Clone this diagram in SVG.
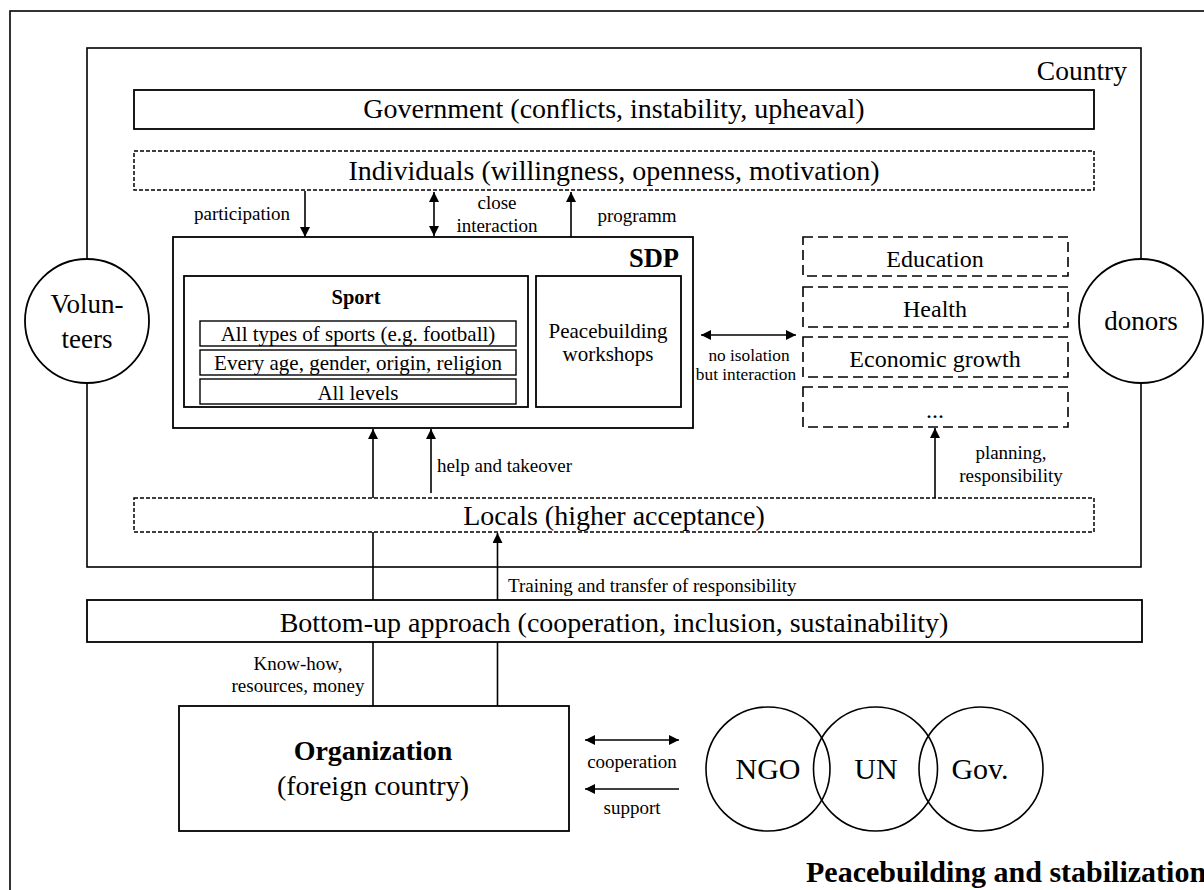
<svg xmlns="http://www.w3.org/2000/svg" width="1204" height="890" viewBox="0 0 1204 890">
<style>
text{font-family:"Liberation Serif","Times New Roman",serif;fill:#000}
.big{font-size:28px}
.lbl{font-size:19px}
.med{font-size:21px}
.box{fill:#fff;stroke:#000;stroke-width:1.8}
.frame{fill:none;stroke:#000;stroke-width:1.6}
.dash{fill:#fff;stroke:#000;stroke-width:1.5;stroke-dasharray:4 2}
.ldash{fill:#fff;stroke:#000;stroke-width:1.6;stroke-dasharray:10 5}
.ln{fill:none;stroke:#000;stroke-width:1.6}
.c{text-anchor:middle}
.b{font-weight:bold}
</style>
<defs>
<marker id="ah" viewBox="0 0 10 10" refX="10" refY="5" markerWidth="10" markerHeight="10" markerUnits="userSpaceOnUse" orient="auto-start-reverse">
<path d="M0,0 L10,5 L0,10 z" fill="#000"/>
</marker>
</defs>
<rect id="outer" x="10" y="11" width="1210" height="900" class="frame"/>
<g id="country"><rect x="87" y="48" width="1054" height="519" class="frame"/><text x="1127" y="80" style="font-size:27.5px" text-anchor="end">Country</text></g>
<g id="connectors">
<line x1="305" y1="191" x2="305" y2="237" class="ln" marker-end="url(#ah)"/>
<line x1="434" y1="192" x2="434" y2="236" class="ln" marker-start="url(#ah)" marker-end="url(#ah)"/>
<line x1="571" y1="237" x2="571" y2="192" class="ln" marker-end="url(#ah)"/>
<line x1="701" y1="335" x2="796" y2="335" class="ln" marker-start="url(#ah)" marker-end="url(#ah)"/>
<line x1="373" y1="498" x2="373" y2="429" class="ln" marker-end="url(#ah)"/>
<line x1="373" y1="532" x2="373" y2="600" class="ln"/>
<line x1="373" y1="642" x2="373" y2="706" class="ln"/>
<line x1="431" y1="493" x2="431" y2="429" class="ln" marker-end="url(#ah)"/>
<line x1="935" y1="498" x2="935" y2="428" class="ln" marker-end="url(#ah)"/>
<line x1="497.5" y1="600" x2="497.5" y2="533" class="ln" marker-end="url(#ah)"/>
<line x1="497.5" y1="642" x2="497.5" y2="706" class="ln"/>
<line x1="585" y1="740" x2="679" y2="740" class="ln" marker-start="url(#ah)" marker-end="url(#ah)"/>
<line x1="679" y1="789" x2="585" y2="789" class="ln" marker-end="url(#ah)"/>
<text x="290" y="220" class="lbl" text-anchor="end">participation</text>
<text x="497" y="209" class="lbl c">close</text>
<text x="497" y="232" class="lbl c">interaction</text>
<text x="637" y="222" class="lbl c">programm</text>
<text x="749" y="361" style="font-size:17.3px" class="c">no isolation</text>
<text x="746" y="380" style="font-size:17.3px" class="c">but interaction</text>
<text x="437" y="472" class="lbl">help and takeover</text>
<text x="1011" y="459" class="lbl c">planning,</text>
<text x="1011" y="482" class="lbl c">responsibility</text>
<text x="508" y="592" class="lbl">Training and transfer of responsibility</text>
<text x="298" y="670" class="lbl c">Know-how,</text>
<text x="298" y="692" class="lbl c">resources, money</text>
<text x="632" y="768" class="lbl c">cooperation</text>
<text x="632" y="814" class="lbl c">support</text>
</g>
<g id="government"><rect x="134" y="90" width="960" height="39" class="box"/><text x="614" y="118" class="big c">Government (conflicts, instability, upheaval)</text></g>
<g id="individuals"><rect x="134" y="151" width="960" height="39" class="dash"/><text x="614" y="180" class="big c">Individuals (willingness, openness, motivation)</text></g>
<g id="sdp"><rect x="173" y="237" width="520" height="191" class="box"/><text x="679" y="267" class="b" style="font-size:26.5px" text-anchor="end">SDP</text></g>
<g id="sport"><rect x="184" y="276" width="344" height="131" class="box"/><text x="356" y="304" class="b c" style="font-size:20.5px">Sport</text>
<rect x="200" y="321" width="316" height="25" class="box" style="stroke-width:1.4"/><text x="358" y="341" class="med c">All types of sports (e.g. football)</text>
<rect x="200" y="350" width="316" height="25" class="box" style="stroke-width:1.4"/><text x="358" y="370" class="med c">Every age, gender, origin, religion</text>
<rect x="200" y="379" width="316" height="25" class="box" style="stroke-width:1.4"/><text x="358" y="400" class="med c">All levels</text></g>
<g id="workshops"><rect x="536" y="276" width="145" height="131" class="box"/><text x="608" y="338" class="med c">Peacebuilding</text><text x="608" y="361" class="med c">workshops</text></g>
<g id="education"><rect x="803" y="237" width="265" height="39" class="ldash"/><text x="935" y="267" style="font-size:24px" class="c">Education</text></g>
<g id="health"><rect x="803" y="287" width="265" height="40" class="ldash"/><text x="935" y="317" style="font-size:24px" class="c">Health</text></g>
<g id="economic"><rect x="803" y="337" width="265" height="40" class="ldash"/><text x="935" y="367" style="font-size:24px" class="c">Economic growth</text></g>
<g id="more"><rect x="803" y="387" width="265" height="40" class="ldash"/><text x="935" y="418" style="font-size:24px" class="c">...</text></g>
<g id="volunteers"><circle cx="87" cy="321" r="62" class="box"/><text x="87" y="313" style="font-size:27px" class="c">Volun-</text><text x="87" y="348" style="font-size:27px" class="c">teers</text></g>
<g id="donors"><circle cx="1141" cy="321" r="62" class="box"/><text x="1141" y="330" style="font-size:27px" class="c">donors</text></g>
<g id="locals"><rect x="134" y="498" width="960" height="34" class="dash"/><text x="614" y="525" class="big c">Locals (higher acceptance)</text></g>
<g id="bottomup"><rect x="87" y="600" width="1055" height="42" class="box"/><text x="614" y="632" class="big c">Bottom-up approach (cooperation, inclusion, sustainability)</text></g>
<g id="organization"><rect x="179" y="706" width="390" height="125" class="box"/><text x="373" y="760" class="big b c">Organization</text><text x="373" y="795" class="big c">(foreign country)</text></g>
<g id="actors" style="font-size:30px">
<circle cx="768" cy="769" r="62" fill="none" stroke="#000" stroke-width="1.6"/>
<circle cx="875.5" cy="769" r="62" fill="none" stroke="#000" stroke-width="1.6"/>
<circle cx="981" cy="769" r="62" fill="none" stroke="#000" stroke-width="1.6"/>
<text x="768" y="779" class="c">NGO</text><text x="876" y="779" class="c">UN</text><text x="980" y="779" class="c">Gov.</text></g>
<text x="806" y="882" class="b" style="font-size:30px">Peacebuilding and stabilization</text>
</svg>
